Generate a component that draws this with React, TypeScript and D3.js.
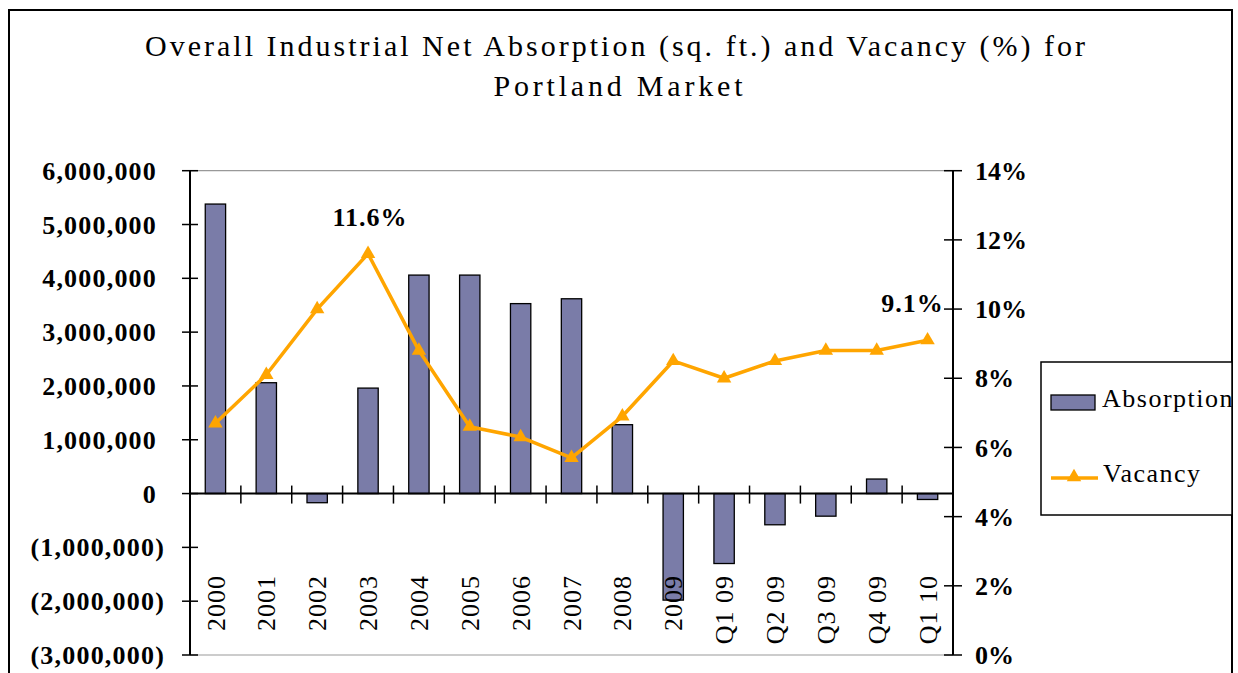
import React from "react";
import * as d3 from "d3";

const categories = ["2000","2001","2002","2003","2004","2005","2006","2007","2008","2009","Q1 09","Q2 09","Q3 09","Q4 09","Q1 10"];
const absorption = [5380000, 2060000, -170000, 1960000, 4060000, 4060000, 3530000, 3620000, 1280000, -1980000, -1300000, -580000, -420000, 270000, -110000];
const vacancy = [6.7, 8.1, 10.0, 11.6, 8.8, 6.6, 6.3, 5.7, 6.9, 8.5, 8.0, 8.5, 8.8, 8.8, 9.1];
const leftTicks = [-3000000, -2000000, -1000000, 0, 1000000, 2000000, 3000000, 4000000, 5000000, 6000000];
const rightTicks = [0, 2, 4, 6, 8, 10, 12, 14];
const labelled = [{ index: 3, text: "11.6%" }, { index: 14, text: "9.1%" }];
const titleLines = ["Overall Industrial Net Absorption (sq. ft.) and Vacancy (%) for", "Portland Market"];
const seriesNames = ["Absorption", "Vacancy"];

const FONT = "'Liberation Serif', 'DejaVu Serif', serif";
const BAR = "#7a7ca8";
const ORANGE = "#FFA500";

export default function App() {
  const left = 190, right = 953, top = 170.7, bottom = 655;
  const x = d3.scaleBand<string>().domain(categories).range([left, right]).paddingInner(0).paddingOuter(0);
  const yL = d3.scaleLinear().domain([-3000000, 6000000]).range([bottom, top]);
  const yR = d3.scaleLinear().domain([0, 14]).range([bottom, top]);
  const bw = x.bandwidth() / 2.5;
  const fmt = d3.format(",");
  const line = d3.line<number>().x((_, i) => (x(categories[i]) as number) + x.bandwidth() / 2).y(d => yR(d));
  const tri = d3.symbol().type(d3.symbolTriangle).size(90)();
  const zero = yL(0);

  return (
    <svg width={1238} height={673} style={{ position: "absolute", left: 0, top: 0, background: "#fff" }} fontFamily={FONT}>
      <rect x={9} y={10} width={1223} height={700} fill="#fff" stroke="#000" strokeWidth={2} />
      <text x={615} y={56} fontSize={30} textAnchor="middle" textLength={940} lengthAdjust="spacing">{titleLines[0]}</text>
      <text x={618} y={96} fontSize={30} textAnchor="middle" textLength={249} lengthAdjust="spacing">{titleLines[1]}</text>

      {/* plot area border */}
      <line x1={left} x2={right} y1={top} y2={top} stroke="#999" strokeWidth={1.2} />
      <line x1={left} x2={right} y1={bottom} y2={bottom} stroke="#999" strokeWidth={1.2} />

      {/* bars */}
      {absorption.map((v, i) => {
        const cx = (x(categories[i]) as number) + x.bandwidth() / 2;
        const y0 = Math.min(yL(v), zero);
        const h = Math.abs(yL(v) - zero);
        return <rect key={i} x={cx - bw / 2} y={y0} width={bw} height={h} fill={BAR} stroke="#000" strokeWidth={1.3} />;
      })}

      {/* left axis */}
      <line x1={left} x2={left} y1={top} y2={bottom} stroke="#000" strokeWidth={2} />
      {leftTicks.map(t => (
        <g key={t}>
          <line x1={left - 8} x2={left + 8} y1={yL(t)} y2={yL(t)} stroke="#000" strokeWidth={1.5} />
          <text x={t < 0 ? 165 : 157} y={yL(t)} dy="0.35em" textAnchor="end" fontSize={26} fontWeight="bold" letterSpacing={1.2}>
            {t < 0 ? `(${fmt(-t)})` : fmt(t)}
          </text>
        </g>
      ))}

      {/* right axis */}
      <line x1={right} x2={right} y1={top} y2={bottom} stroke="#000" strokeWidth={2} />
      {rightTicks.map(t => (
        <g key={t}>
          <line x1={right - 9} x2={right + 9} y1={yR(t)} y2={yR(t)} stroke="#000" strokeWidth={1.5} />
          <text x={975} y={yR(t)} dy="0.35em" textAnchor="start" fontSize={26} fontWeight="bold">{t}%</text>
        </g>
      ))}

      {/* category axis at zero */}
      <line x1={left} x2={right} y1={zero} y2={zero} stroke="#000" strokeWidth={2} />
      {categories.map((c, i) => i === 0 ? null : (
        <line key={c} x1={x(c) as number} x2={x(c) as number} y1={zero - 8} y2={zero + 10} stroke="#000" strokeWidth={1.5} />
      ))}
      {categories.map(c => {
        const cx = (x(c) as number) + x.bandwidth() / 2;
        return (
          <text key={c} transform={`translate(${cx},575) rotate(-90)`} textAnchor="end" dy="0.35em" fontSize={26} letterSpacing={1}>{c}</text>
        );
      })}

      {/* vacancy line */}
      <path d={line(vacancy) as string} fill="none" stroke={ORANGE} strokeWidth={3.5} strokeLinejoin="round" />
      {vacancy.map((v, i) => (
        <path key={i} d={tri as string} transform={`translate(${(x(categories[i]) as number) + x.bandwidth() / 2},${yR(v)})`} fill={ORANGE} />
      ))}
      {labelled.map(l => {
        const cx = (x(categories[l.index]) as number) + x.bandwidth() / 2;
        const dx = l.index === categories.length - 1 ? -15 : 2;
        return (
          <text key={l.text} x={cx + dx} y={yR(vacancy[l.index]) - 28} textAnchor="middle" fontSize={26} fontWeight="bold" letterSpacing={1}>{l.text}</text>
        );
      })}

      {/* legend */}
      <rect x={1041} y={362} width={191} height={153} fill="#fff" stroke="#000" strokeWidth={1.5} />
      <rect x={1051} y={395} width={44} height={15} fill={BAR} stroke="#000" strokeWidth={1.3} />
      <text x={1102} y={407} fontSize={26} letterSpacing={1.5}>{seriesNames[0]}</text>
      <line x1={1051} x2={1098} y1={478} y2={478} stroke={ORANGE} strokeWidth={3.5} />
      <path d={tri as string} transform="translate(1074,477)" fill={ORANGE} />
      <text x={1103} y={482} fontSize={26} letterSpacing={1.5}>{seriesNames[1]}</text>
    </svg>
  );
}
